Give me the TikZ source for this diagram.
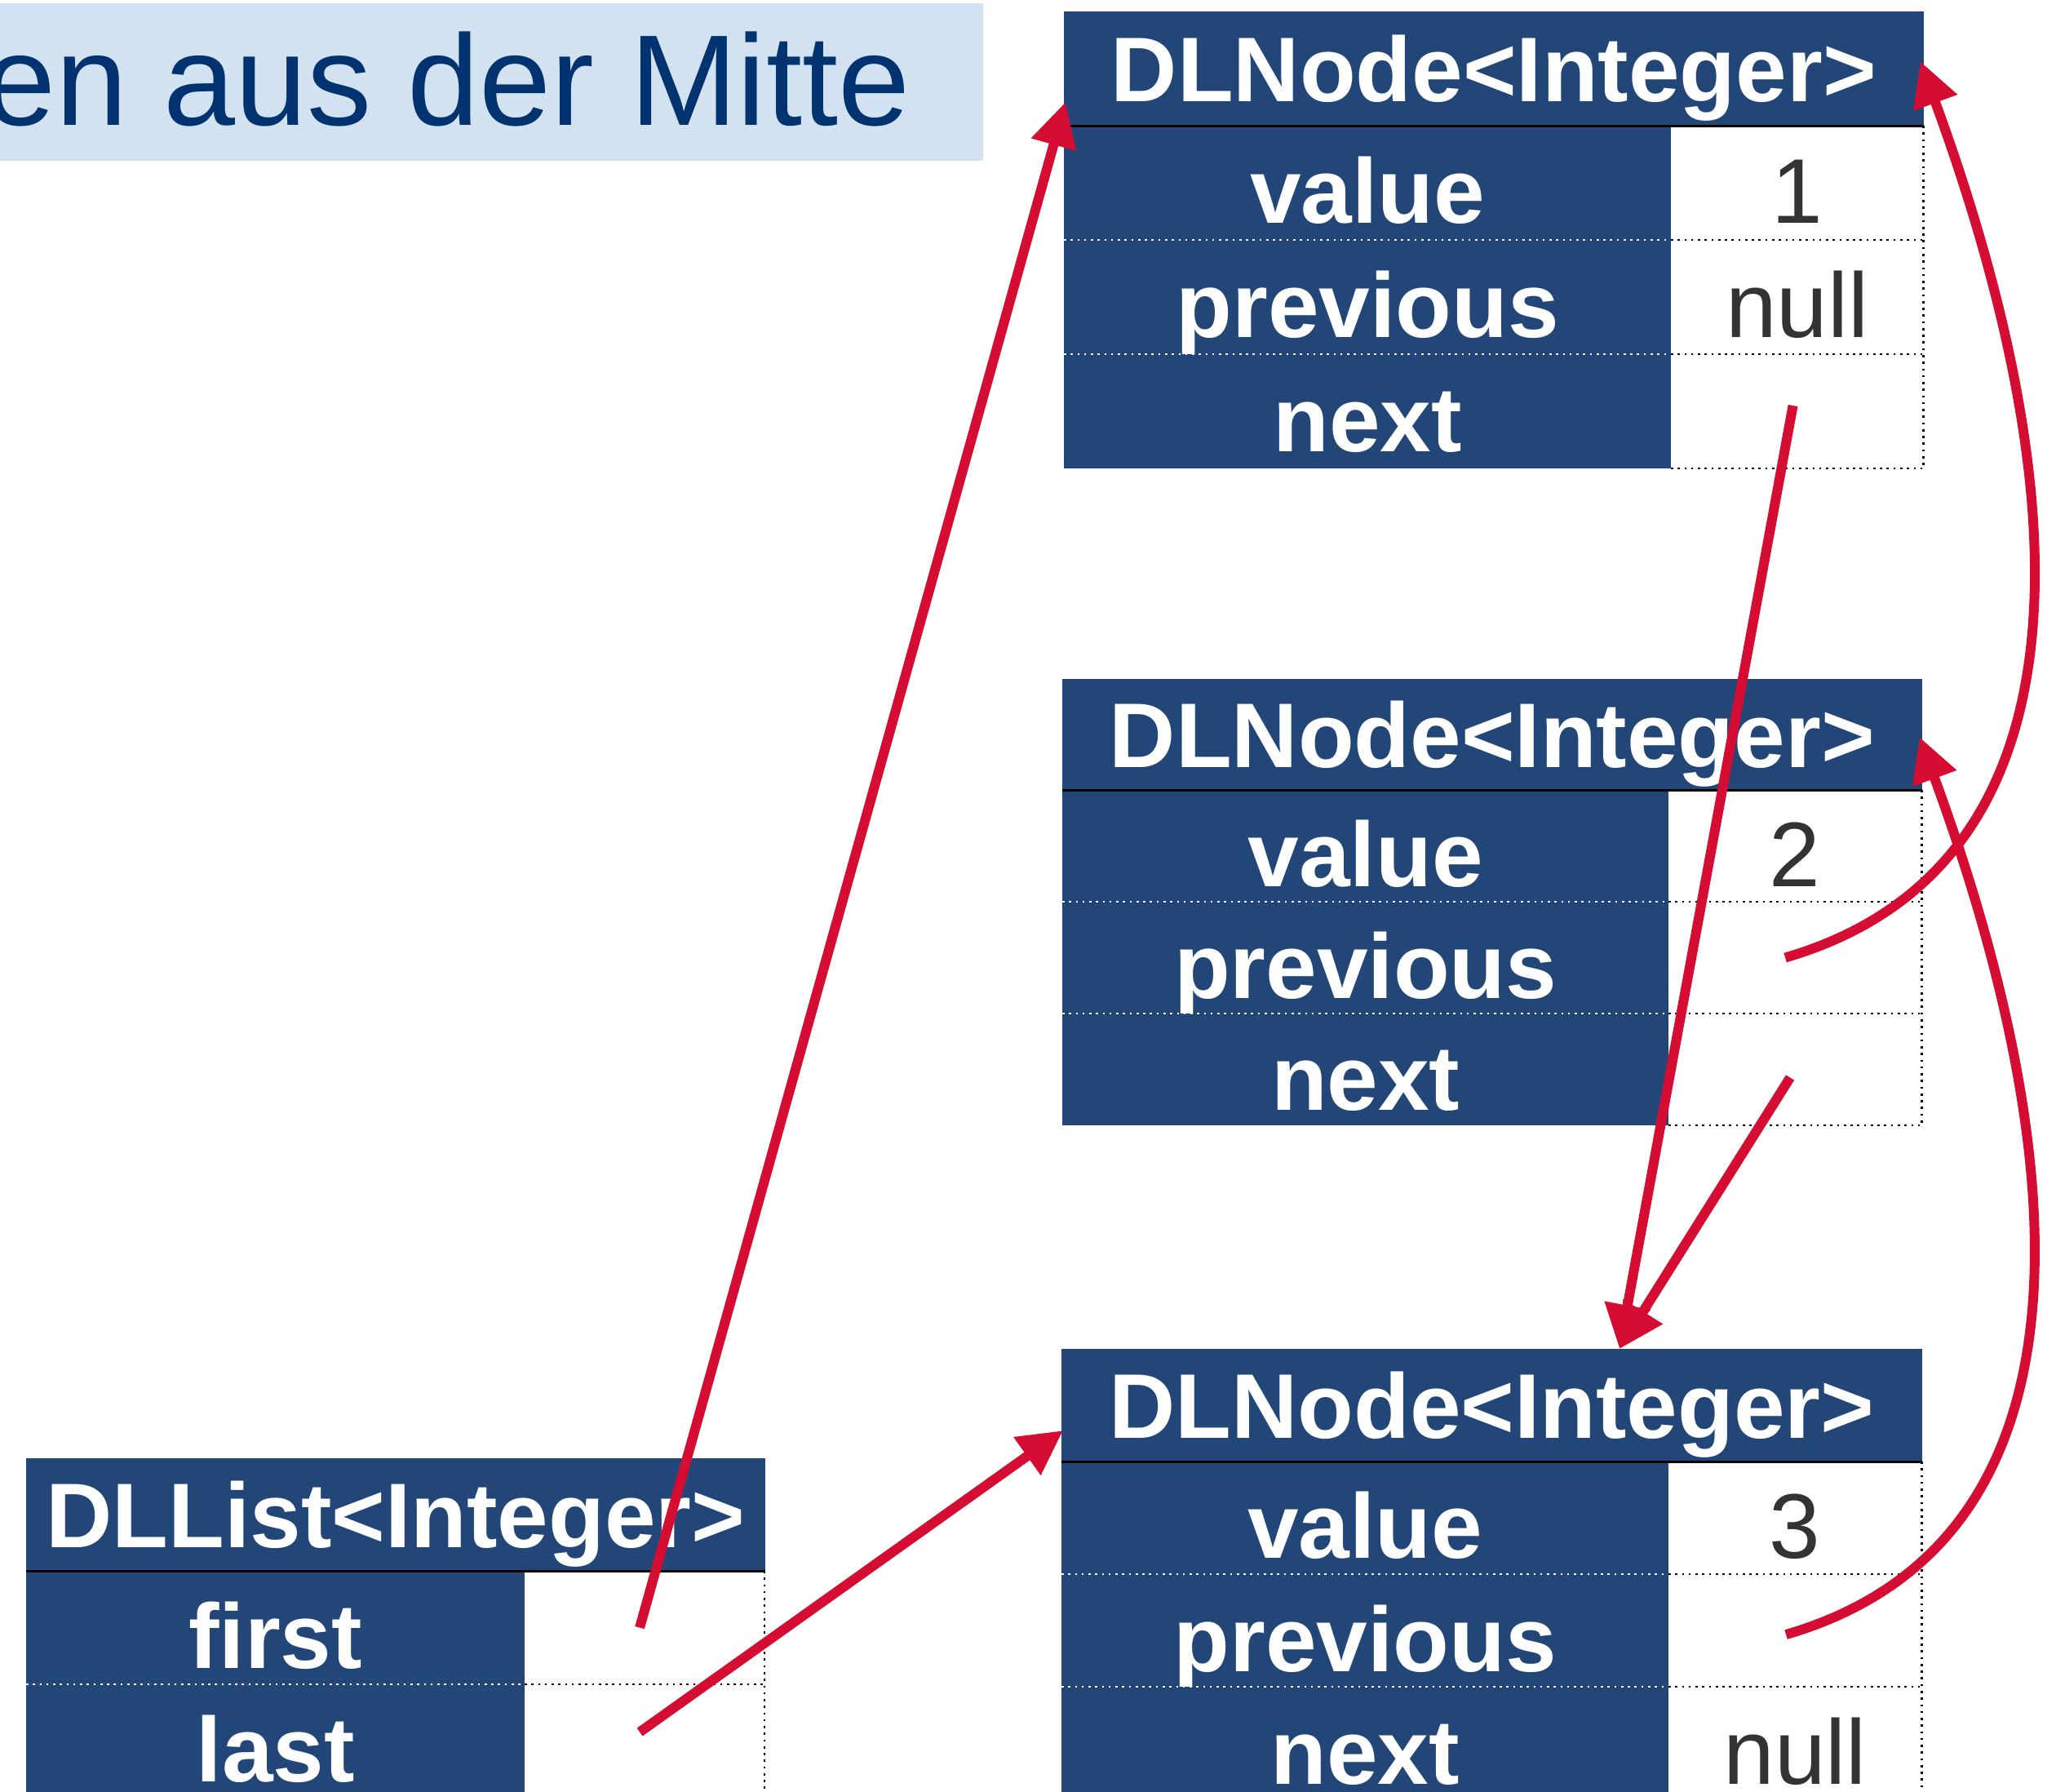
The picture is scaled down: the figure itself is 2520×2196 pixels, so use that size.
\documentclass[tikz,border=0pt]{standalone}
\usepackage{fontspec}
\setmainfont{Liberation Sans}
\usetikzlibrary{arrows.meta,calc}

\definecolor{cellblue}{RGB}{35,70,121}
\definecolor{ptrred}{RGB}{214,13,50}
\definecolor{titlefill}{RGB}{211,226,241}
\definecolor{titleink}{RGB}{0,51,112}
\definecolor{valink}{RGB}{51,51,51}

\newcommand\hdrfont{\bfseries\fontsize{32}{38}\selectfont}
\newcommand\valfont{\fontsize{32}{38}\selectfont}
\newcommand\ttlfont{\fontsize{45}{52}\selectfont}

\begin{document}
\begin{tikzpicture}[x=0.01cm, y=-0.01cm,
  cell/.style={inner sep=0pt, outer sep=0pt, anchor=north west, draw=none},
  hdr/.style={cell, fill=cellblue, text=white, font=\hdrfont, text height=28pt, text depth=5.2pt},
  lbl/.style={cell, fill=cellblue, text=white, font=\hdrfont, text height=30pt, text depth=1.6pt},
  val/.style={cell, fill=white, text=valink, font=\valfont, text height=30pt, text depth=1.6pt},
  sepw/.style={white, line width=0.75pt, dash pattern=on 0.75pt off 1.6pt},
  sepk/.style={black, line width=0.75pt, dash pattern=on 0.75pt off 1.6pt},
  hline/.style={black, line width=0.9pt},
  ptr/.style={ptrred, line width=3.4pt, -{Triangle[length=15.4pt,width=15.4pt]}}
]
\useasboundingbox (0,0) rectangle (2520,2196);

% heading strip
\node[cell, fill=titlefill, minimum width=12.30cm, minimum height=1.93cm] (titlebox) at (-26,4) {};
\node[anchor=base east, inner sep=0pt, font=\ttlfont, text=titleink] (title) at (1116,153) {en aus der Mitte};

% ---- list object ----
\node[hdr, minimum width=9.05cm, minimum height=1.38cm] (lh) at (32,1787) {DLList<Integer>};
\node[lbl, minimum width=6.11cm, minimum height=1.39cm] (lfirstl) at (32,1925) {first};
\node[val, minimum width=2.94cm, minimum height=1.39cm] (lfirstv) at (643,1925) {};
\node[lbl, minimum width=6.11cm, minimum height=1.39cm] (llastl) at (32,2064) {last};
\node[val, minimum width=2.94cm, minimum height=1.39cm] (llastv) at (643,2064) {};
\draw[sepw] (lfirstl.south west) -- (lfirstl.south east);
\draw[sepk] (lfirstv.south west) -- (lfirstv.south east);
\draw[sepk] (lfirstv.north east) -- (llastv.south east);
\draw[hline] (lh.south west) -- (lh.south east);

% ---- node 1 ----
\node[hdr, minimum width=10.53cm, minimum height=1.40cm] (n1h) at (1304,14) {DLNode<Integer>};
\node[lbl, minimum width=7.44cm, minimum height=1.40cm] (n1l1) at (1304,154) {value};
\node[val, minimum width=3.09cm, minimum height=1.40cm] (n1v1) at (2048,154) {1};
\node[lbl, minimum width=7.44cm, minimum height=1.40cm] (n1l2) at (1304,294) {previous};
\node[val, minimum width=3.09cm, minimum height=1.40cm] (n1v2) at (2048,294) {null};
\node[lbl, minimum width=7.44cm, minimum height=1.40cm] (n1l3) at (1304,434) {next};
\node[val, minimum width=3.09cm, minimum height=1.40cm] (n1v3) at (2048,434) {};
\draw[sepw] (n1l1.south west) -- (n1l1.south east);
\draw[sepw] (n1l2.south west) -- (n1l2.south east);
\draw[sepk] (n1v1.south west) -- (n1v1.south east);
\draw[sepk] (n1v2.south west) -- (n1v2.south east);
\draw[sepk] (n1v3.south west) -- (n1v3.south east);
\draw[sepk] (n1v1.north east) -- (n1v3.south east);
\draw[hline] (n1h.south west) -- (n1h.south east);

% ---- node 2 ----
\node[hdr, minimum width=10.53cm, minimum height=1.36cm] (n2h) at (1302,832) {DLNode<Integer>};
\node[lbl, minimum width=7.43cm, minimum height=1.37cm] (n2l1) at (1302,968) {value};
\node[val, minimum width=3.10cm, minimum height=1.37cm] (n2v1) at (2045,968) {2};
\node[lbl, minimum width=7.43cm, minimum height=1.37cm] (n2l2) at (1302,1105) {previous};
\node[val, minimum width=3.10cm, minimum height=1.37cm] (n2v2) at (2045,1105) {};
\node[lbl, minimum width=7.43cm, minimum height=1.37cm] (n2l3) at (1302,1242) {next};
\node[val, minimum width=3.10cm, minimum height=1.37cm] (n2v3) at (2045,1242) {};
\draw[sepw] (n2l1.south west) -- (n2l1.south east);
\draw[sepw] (n2l2.south west) -- (n2l2.south east);
\draw[sepk] (n2v1.south west) -- (n2v1.south east);
\draw[sepk] (n2v2.south west) -- (n2v2.south east);
\draw[sepk] (n2v3.south west) -- (n2v3.south east);
\draw[sepk] (n2v1.north east) -- (n2v3.south east);
\draw[hline] (n2h.south west) -- (n2h.south east);

% ---- node 3 ----
\node[hdr, minimum width=10.54cm, minimum height=1.38cm] (n3h) at (1301,1653) {DLNode<Integer>};
\node[lbl, minimum width=7.44cm, minimum height=1.38cm] (n3l1) at (1301,1791) {value};
\node[val, minimum width=3.10cm, minimum height=1.38cm] (n3v1) at (2045,1791) {3};
\node[lbl, minimum width=7.44cm, minimum height=1.38cm] (n3l2) at (1301,1929) {previous};
\node[val, minimum width=3.10cm, minimum height=1.38cm] (n3v2) at (2045,1929) {};
\node[lbl, minimum width=7.44cm, minimum height=1.38cm] (n3l3) at (1301,2067) {next};
\node[val, minimum width=3.10cm, minimum height=1.38cm] (n3v3) at (2045,2067) {null};
\draw[sepw] (n3l1.south west) -- (n3l1.south east);
\draw[sepw] (n3l2.south west) -- (n3l2.south east);
\draw[sepk] (n3v1.south west) -- (n3v1.south east);
\draw[sepk] (n3v2.south west) -- (n3v2.south east);
\draw[sepk] (n3v1.north east) -- (n3v3.south east);
\draw[hline] (n3h.south west) -- (n3h.south east);

% ---- references ----
\draw[ptr] ($(lfirstv.center)+(-6,0)$) -- ($(n1h.west)+(2,41)$);
\draw[ptr] ($(llastv.center)+(-6,-11)$) -- ($(n3h.west)+(2,31)$);
\draw[ptr] ($(n1v3.center)+(-5,-7)$) -- ($(n3h.north west)+(684,0)$);
\draw[ptr] ($(n2v3.center)+(-6,10)$) -- ($(n3h.north west)+(684,0)$);
\draw[ptr] ($(n2v2.center)+(-12,0)$)
  .. controls ($(n2v2.center)+(420,-126)$) and ($(n1h.east)+(151,413)$)
  .. ($(n1h.east)+(-4,-9)$);
\draw[ptr] ($(n3v2.center)+(-11,5)$)
  .. controls ($(n3v2.center)+(421,-121)$) and ($(n2h.east)+(152,425)$)
  .. ($(n2h.east)+(-3,3)$);
\end{tikzpicture}
\end{document}
